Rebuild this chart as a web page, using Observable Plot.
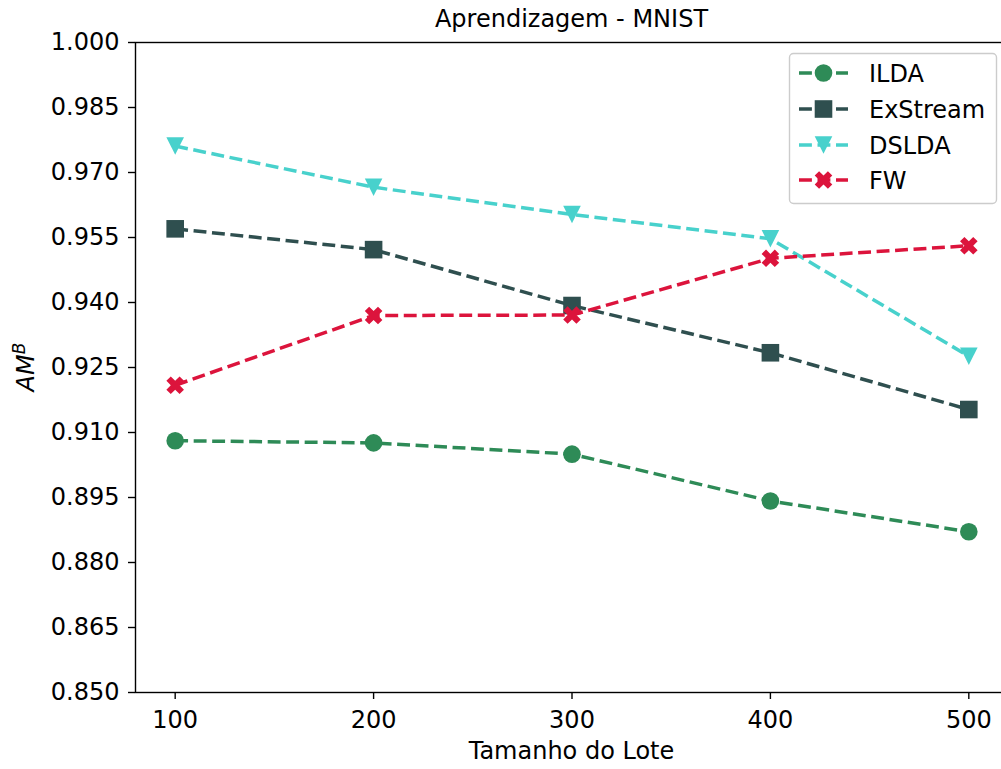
<!DOCTYPE html>
<html>
<head>
<meta charset="utf-8">
<script src="https://cdn.jsdelivr.net/npm/d3@7"></script>
<script src="https://cdn.jsdelivr.net/npm/@observablehq/plot@0.6"></script>
<style>
  html, body { margin: 0; padding: 0; background: #fff; }
  #chart { position: relative; width: 1001px; height: 769px; overflow: hidden; }
  svg { overflow: hidden; }
</style>
</head>
<body>
<div id="chart"></div>
<script>
// ---- Data ----
const batchSizes = [100, 200, 300, 400, 500];
const seriesNames = ["ILDA", "ExStream", "DSLDA", "FW"];
const ilda     = [0.9081, 0.9076, 0.9050, 0.8942, 0.8871];
const exstream = [0.9570, 0.9522, 0.9393, 0.9284, 0.9153];
const dslda    = [0.9761, 0.9666, 0.9603, 0.9547, 0.9276];
const fw       = [0.9209, 0.9370, 0.9371, 0.9502, 0.9531];
const seriesColors = ["#2E8B57", "#2F4F4F", "#48D1CC", "#DC143C"];
const xTicks = [100, 200, 300, 400, 500];
const yTicks = [0.850, 0.865, 0.880, 0.895, 0.910, 0.925, 0.940, 0.955, 0.970, 0.985, 1.000];
const titleText = "Aprendizagem - MNIST";
const xLabel = "Tamanho do Lote";
const yLabelMain = "AM";
const yLabelSup = "B";

const seriesValues = [ilda, exstream, dslda, fw];

// ---- Marker symbols (matplotlib-like) ----
const circleSym = { draw(ctx, size) { const h = Math.sqrt(size / Math.PI); ctx.moveTo(h, 0); ctx.arc(0, 0, h, 0, 2 * Math.PI); ctx.closePath(); } };
const squareSym = { draw(ctx, size) { const h = Math.sqrt(size / Math.PI); ctx.moveTo(-h, -h); ctx.lineTo(h, -h); ctx.lineTo(h, h); ctx.lineTo(-h, h); ctx.closePath(); } };
const triDownSym = { draw(ctx, size) { const h = Math.sqrt(size / Math.PI); ctx.moveTo(0, h); ctx.lineTo(-h, -h); ctx.lineTo(h, -h); ctx.closePath(); } };
const xFilledSym = { draw(ctx, size) {
  const h = Math.sqrt(size / Math.PI);
  const k = h / (4 / Math.SQRT2);
  const pts = [[-1,-3],[1,-3],[1,-1],[3,-1],[3,1],[1,1],[1,3],[-1,3],[-1,1],[-3,1],[-3,-1],[-1,-1]];
  pts.forEach(([x, y], i) => {
    const xr = (x - y) / Math.SQRT2 * k, yr = (x + y) / Math.SQRT2 * k;
    if (i === 0) ctx.moveTo(xr, yr); else ctx.lineTo(xr, yr);
  });
  ctx.closePath();
} };
const seriesSymbols = [circleSym, squareSym, triDownSym, xFilledSym];
const markerR = 8.8;
const dash = "12.9,5.6";
const lineW = 3.5;

const rows = seriesNames.flatMap((s, i) => batchSizes.map((b, j) => ({ series: s, size: b, value: seriesValues[i][j] })));

const seriesMarks = seriesNames.flatMap((s, i) => {
  const d = rows.filter(r => r.series === s);
  return [
    Plot.line(d, { x: "size", y: "value", stroke: seriesColors[i], strokeWidth: lineW, strokeDasharray: dash, strokeLinecap: "butt", strokeLinejoin: "round" }),
    Plot.dot(d, { x: "size", y: "value", fill: seriesColors[i], stroke: "none", r: markerR, symbol: seriesSymbols[i] })
  ];
});

const W = 1001, H = 769;
const mL = 135, mT = 42, mB = 77, mR = -7;

const chart = Plot.plot({
  width: W, height: H,
  marginLeft: mL, marginTop: mT, marginBottom: mB, marginRight: mR,
  style: { fontFamily: "'DejaVu Sans', sans-serif", fontSize: "24px", background: "white", color: "black", overflow: "hidden" },
  x: { domain: [80, 520] },
  y: { domain: [0.85, 1.0] },
  marks: [
    ...seriesMarks,
    Plot.frame({ stroke: "black", strokeWidth: 1.4 }),
    Plot.axisY({ ticks: yTicks, tickFormat: d3.format(".3f"), tickSize: 7, tickPadding: 9, label: null, strokeWidth: 1.4, fontSize: 24 }),
    Plot.axisX({ ticks: xTicks, tickFormat: d3.format("d"), tickSize: 7, tickPadding: 11, label: null, strokeWidth: 1.4, fontSize: 24 })
  ]
});

document.getElementById("chart").appendChild(chart);

// ---- Titles and labels ----
const svg = d3.select(chart);
const font = "'DejaVu Sans', sans-serif";
const cx = (mL + (W - mR)) / 2;

svg.append("text").attr("x", cx).attr("y", 27).attr("text-anchor", "middle")
  .attr("font-family", font).attr("font-size", 24).attr("fill", "black").text(titleText);

svg.append("text").attr("x", cx).attr("y", 759).attr("text-anchor", "middle")
  .attr("font-family", font).attr("font-size", 24).attr("fill", "black").text(xLabel);

const yl = svg.append("text")
  .attr("transform", `translate(34,${(mT + (H - mB)) / 2}) rotate(-90)`)
  .attr("text-anchor", "middle").attr("font-family", font).attr("font-size", 24)
  .attr("font-style", "italic").attr("fill", "black");
yl.append("tspan").text(yLabelMain);
yl.append("tspan").attr("font-size", 17).attr("dy", -9).text(yLabelSup);

// ---- Legend ----
const lg = svg.append("g");
lg.append("rect").attr("x", 789.5).attr("y", 53.5).attr("width", 207).attr("height", 150).attr("rx", 4)
  .attr("fill", "white").attr("fill-opacity", 0.8).attr("stroke", "#cccccc").attr("stroke-width", 1.4);
const entryY = [73, 109, 145, 180];
seriesNames.forEach((s, i) => {
  const y = entryY[i];
  lg.append("line").attr("x1", 799).attr("x2", 848).attr("y1", y).attr("y2", y)
    .attr("stroke", seriesColors[i]).attr("stroke-width", lineW).attr("stroke-dasharray", dash);
  lg.append("path").attr("transform", `translate(823.5,${y})`)
    .attr("d", d3.symbol(seriesSymbols[i], markerR * markerR * Math.PI)())
    .attr("fill", seriesColors[i]);
  lg.append("text").attr("x", 869).attr("y", y).attr("dy", "0.36em").attr("text-anchor", "start")
    .attr("font-family", font).attr("font-size", 24).attr("fill", "black").text(s);
});
</script>
</body>
</html>
